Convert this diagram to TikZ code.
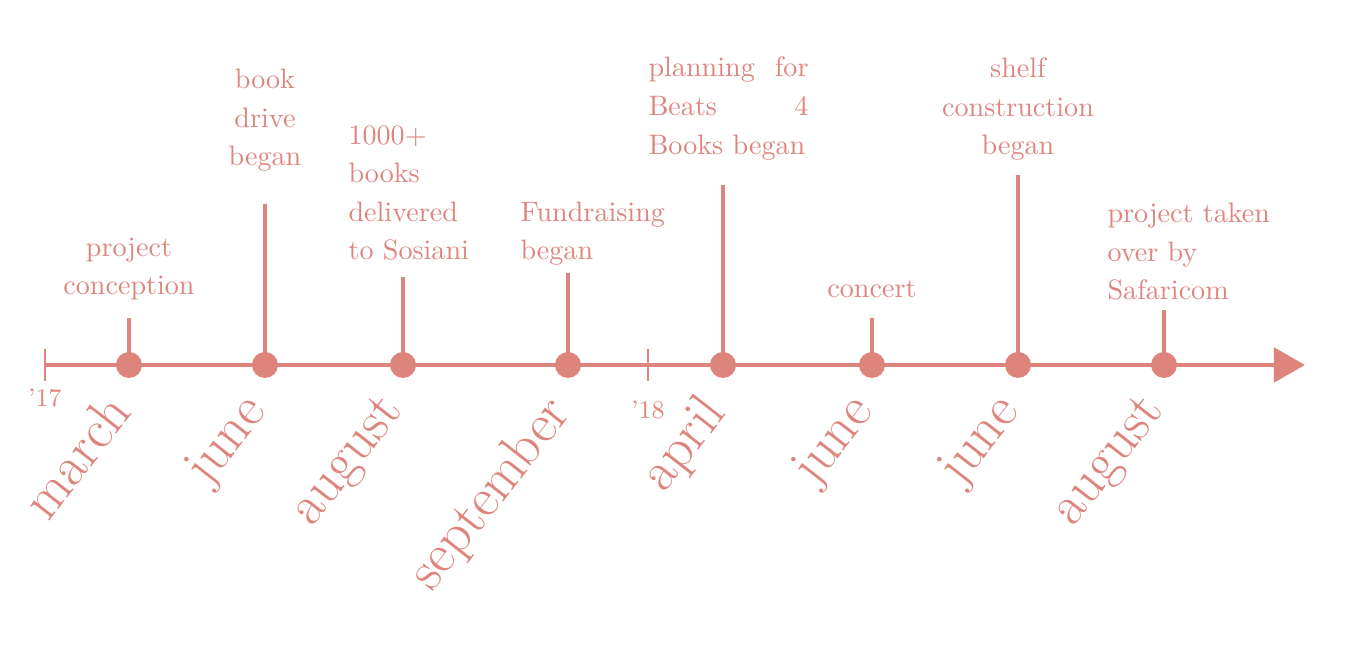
\documentclass[tikz,border=0pt]{standalone}
\usepackage{tikz}
\usetikzlibrary{arrows.meta}
\definecolor{salmon}{RGB}{221,133,125}

\begin{document}
\begin{tikzpicture}[
  axis/.style={salmon,line width=1.6pt,-{Triangle[length=0.39cm,width=0.43cm]}},
  yeartick/.style={salmon,line width=1pt},
  stem/.style={salmon,line width=1.2pt},
  dot/.style={circle,fill=salmon,inner sep=0,minimum size=0.325cm},
  note/.style={salmon,inner sep=0,font=\fontsize{10}{13.7}\selectfont},
  year/.style={salmon,inner sep=0,font=\small},
  month/.style={salmon,inner sep=0,font=\fontsize{19.8}{23}\selectfont,rotate=52,anchor=north east}]
\useasboundingbox (-0.5625,-3.5625) rectangle (16.3125,4.5625);
\coordinate (start) at (0,0);
\coordinate (end) at (15.75,0);
\draw[axis] (start) -- (end);
\coordinate (y17) at (0,0);
\coordinate (y18) at (7.5375,0);
\draw[yeartick] ([yshift=0.2cm]y17) -- ([yshift=-0.2cm]y17);
\draw[yeartick] ([yshift=0.2cm]y18) -- ([yshift=-0.2cm]y18);
\node[year] (l17) at (0,-0.4125) {'17};
\node[year] (l18) at (7.5375,-0.5625) {'18};
\node[dot] (d1) at (1.05,0) {};
\node[dot] (d2) at (2.75,0) {};
\node[dot] (d3) at (4.475,0) {};
\node[dot] (d4) at (6.5375,0) {};
\node[dot] (d5) at (8.475,0) {};
\node[dot] (d6) at (10.3375,0) {};
\node[dot] (d7) at (12.1625,0) {};
\node[dot] (d8) at (13.9875,0) {};
\coordinate (t1) at (1.05,0.5875);
\coordinate (t2) at (2.75,2.0125);
\coordinate (t3) at (4.475,1.1);
\coordinate (t4) at (6.5375,1.15);
\coordinate (t5) at (8.475,2.25);
\coordinate (t6) at (10.3375,0.5875);
\coordinate (t7) at (12.1625,2.375);
\coordinate (t8) at (13.9875,0.6875);
\draw[stem] (d1.center) -- (t1);
\draw[stem] (d2.center) -- (t2);
\draw[stem] (d3.center) -- (t3);
\draw[stem] (d4.center) -- (t4);
\draw[stem] (d5.center) -- (t5);
\draw[stem] (d6.center) -- (t6);
\draw[stem] (d7.center) -- (t7);
\draw[stem] (d8.center) -- (t8);
\node[note,align=center,anchor=base] (n1) at (1.05,0.875) {project\\conception};
\node[note,align=center,anchor=base] (n2) at (2.75,2.4875) {book\\drive\\began};
\node[note,align=left,anchor=base west] (n3) at (3.7875,1.3125) {1000+\\books\\delivered\\to Sosiani};
\node[note,align=left,anchor=base west] (n4) at (5.9375,1.3125) {Fundraising\\began};
\node[note,text width=2cm,align=justify,anchor=base west] (n5) at (7.5375,3.6) {planning for\linebreak Beats 4\linebreak Books began};
\node[note,align=center,anchor=base] (n6) at (10.3375,0.8375) {concert};
\node[note,align=center,anchor=base] (n7) at (12.1625,2.625) {shelf\\construction\\began};
\node[note,align=left,anchor=base west] (n8) at (13.275,0.8125) {project taken\\over by\\Safaricom};
\node[month] (m1) at (0.72,-0.3) {march};
\node[month] (m2) at (2.42,-0.3) {june};
\node[month] (m3) at (4.145,-0.3) {august};
\node[month] (m4) at (6.2075,-0.3) {september};
\node[month] (m5) at (8.145,-0.3) {april};
\node[month] (m6) at (10.0075,-0.3) {june};
\node[month] (m7) at (11.8325,-0.3) {june};
\node[month] (m8) at (13.6575,-0.3) {august};
\end{tikzpicture}
\end{document}
